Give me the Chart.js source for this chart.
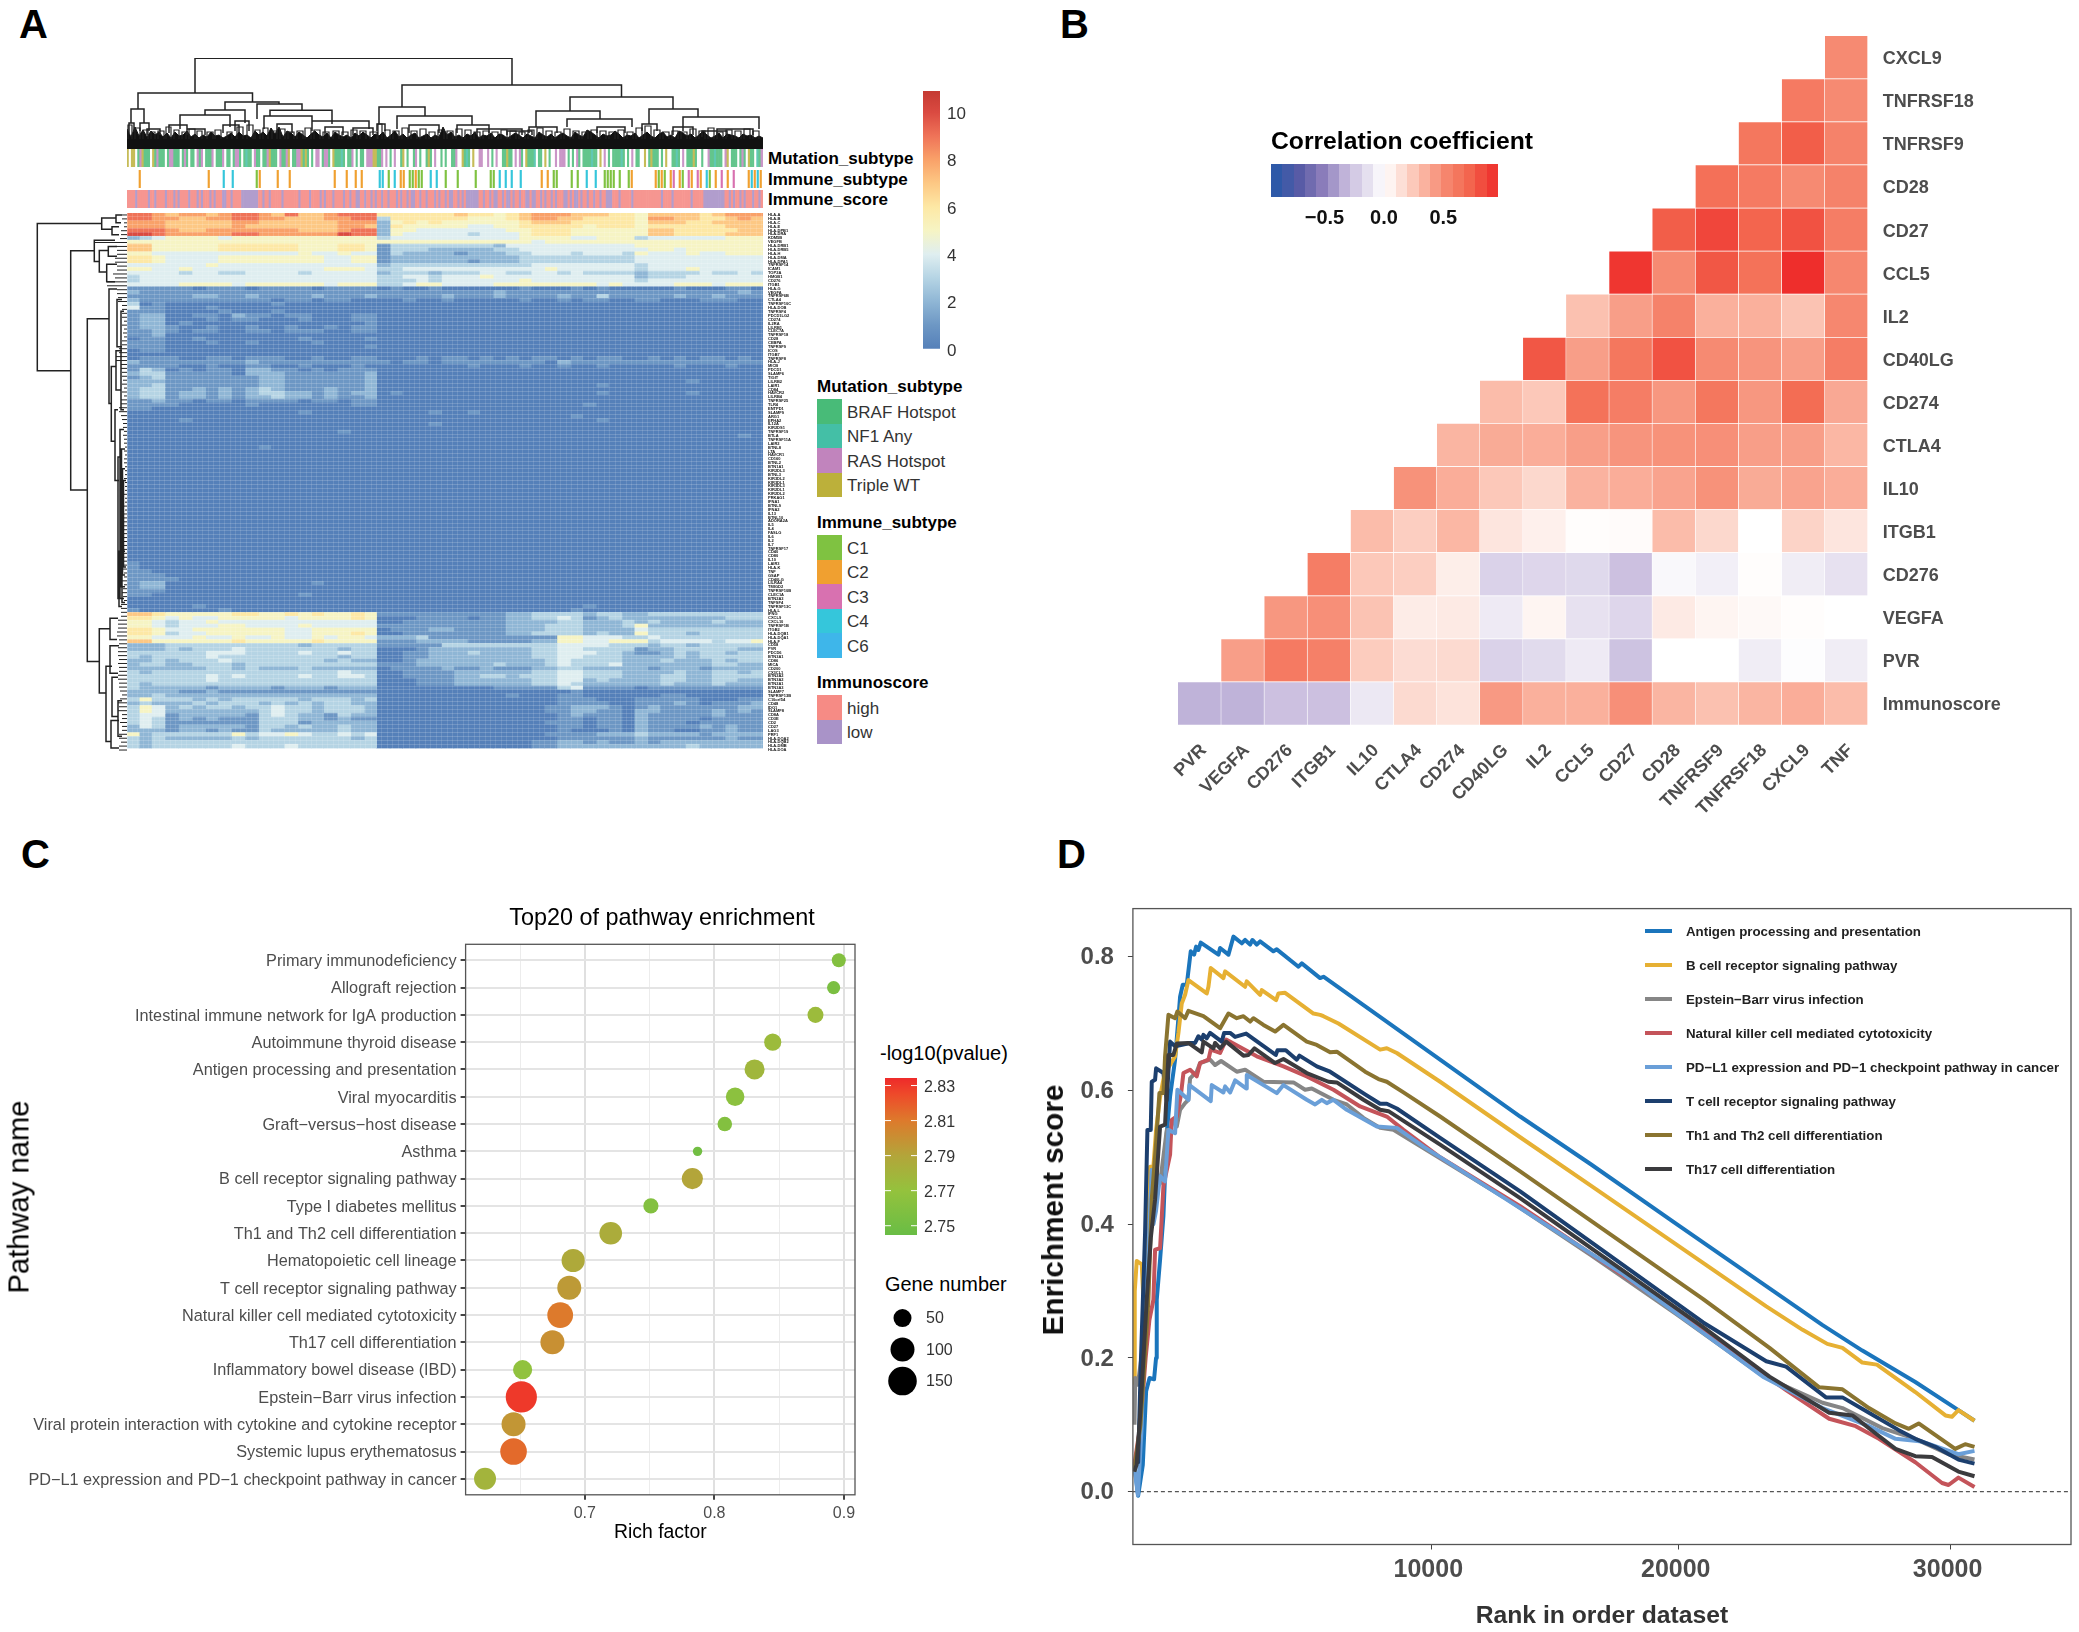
<!DOCTYPE html>
<html>
<head>
<meta charset="utf-8">
<title>Immune panels</title>
<script src="https://cdn.jsdelivr.net/npm/chart.js@4"></script>
<style>
body { margin: 0; background: #fff; font-family: "Liberation Sans", Arial, sans-serif; }
#page { position: relative; width: 2079px; height: 1632px; overflow: hidden; }
#page canvas { position: absolute; }
.txt { position: absolute; white-space: nowrap; transform: translateY(-50%); }
.box { position: absolute; }
</style>
</head>
<body>
<div id="page"></div>
<script>
// ---------- panel A data ----------
// one char per sample group, hex scale 0..a = expression 0..10
const geneNames = [
  'HLA-A','HLA-B','HLA-C','HLA-E','HLA-DPB1','HLA-DRA','KDM5B','VEGFB','HLA-DRB1','HLA-DRB5','HLA-H','HLA-DMA','HLA-DPA1','TNFRSF14','ICAM1','TOP2A','HMGB1','CD276','ITGB1',
  'HLA-G','VEGFA','TNFRSF6B','CTLA4','TNFRSF10C','HLA-DOB','TNFRSF4','PDCD1LG2','CD274','IL2RA','LILRB1','CLEC7A','TNFRSF18','CD28','CEBPA','TNFRSF9','ICOS','ITGB7','TNFRSF8','HLA-J','MICB','PDCD1','SLAMF6','TIGIT','LILRB2','LAIR1','CD84','HAVCR2','LILRB4','TNFRSF25','TLR4','ENTPD1',
  'SLAMF9','ARG1','EPHA2','IL12A','KIR2DS1','TNFRSF19','BTLA','TNFRSF11A','LAIR2','BTNL8','LTA','HAVCR1','CD160','BTNL2','BTN1A1','KIR2DL3','BTNL3','KIR3DL2','KIR3DL1','KIR3DL3','KIR2DL1','KIR2DL2','PRKAG1','IFNA1','BTNL9','IFNA2','IL13','BTNL10','ADORA2A','IL5','IL4','FASLG','IL6','IL2','IL7','TNFRSF17','CD40','CD80','IL10','LAIR3','HLA-K','TNF','GSAP','CD40LG','LILRA4','TMIGD2','TNFRSF10B','CLEC1A','BTN2A3','TNFSF4','TNFRSF13C',
  'HLA-L','IFNG',
  'CXCL9','CXCL10','TNFRSF1B','ITGB2','HLA-DQB1','HLA-DQA1','HLA-F','CD58',
  'PVR','PDCD6','BTN3A1','CD86','MICA','CD200','CX3CL1','BTN2A2','BTN3A2','BTN2A1','BTN3A3','SLAMF7','TNFRSF13B','C10orf54','CD48','IDO1','SLAMF8','CD8A','CD3E','CD2','CD27','LAG3','PRF1','HLA-DQA2','HLA-DQB2','HLA-DMB','HLA-DOA'
];
const heatRows = [
  '998 78878998 79778999 6666667665 6788877766 5777767888',
  '998 87788998 87778899 3666666555 6788776666 5887766787',
  '888 77777887 77777888 2565655555 5677766666 5777667777',
  '888 77777877 77777887 2655555445 5666665666 5666666777',
  '999 87788888 88777899 2554444444 5566655555 5776666677',
  'aa9 88888998 88888a99 2544444344 4566655555 5776666777',
  '234 55554555 55555555 3444444444 4555544555 3444444555',
  '555 55555555 55555555 5555555555 5545555555 5555555555',
  '775 55556666 66555665 1333333332 4444444444 5555555555',
  '775 55556666 66555665 1333222223 3444444444 4554555555',
  '554 44444444 44544544 1322221222 3344434443 5444544555',
  '665 44445555 55554455 1222222222 2333333333 4444444444',
  '665 44445555 55554455 1222222122 2333333333 4444444444',
  '444 44454444 44444444 2333333333 3344444444 3444444444',
  '554 45444444 44445554 3344444444 4445444444 3444544444',
  '444 43443344 44344444 2333233344 3344343333 2333343343',
  '344 44444444 44444444 3344344454 4444444444 2333444444',
  '344 44444444 44444444 3334344444 4544444444 3444444444',
  '444 45555455 55554555 3345544445 5555555454 4445554555',
  // blue band
  '111 11011101 11101111 0100100000 0100010100 0001000110',
  '211 11111111 11111111 1111111112 1111111111 1111111121',
  '111 11221121 11121112 1111121112 1111211311 1112112111',
  '211 11111111 01101100 0010010000 0100101100 1100011100',
  '301 00000000 10000000 0000000000 0000000000 0000000000',
  '411 00010000 00000000 0000000000 0000000000 0000000000',
  '111 00001000 10000000 0000000000 0000000000 0000000000',
  '122 00110211 01100011 0000000000 0000000000 0000000000',
  '122 00010110 00100011 0000000000 0000000000 0000000000',
  '122 01000000 00000001 0000000000 0000000000 0000000000',
  '122 10010010 01001011 0000000000 0000000000 0000000000',
  '112 10110011 01110011 0000000000 0000000000 0000000000',
  '112 00000000 00000000 0000000000 0000000000 0000000000',
  '011 00100000 00100001 0000000000 0000000000 0000000000',
  '111 00010010 00010000 0000000000 0000000000 0000000000',
  '111 00000000 00000001 0000000000 0000000000 0000000000',
  '011 00000000 00000000 0000000000 0000000000 0000000000',
  '000 00000000 00000000 0000000000 0000000000 0000000000',
  '011 10011011 10010011 0001011010 1011010110 0101011010',
  '211 11111121 11111111 1011011111 1110211111 1111111111',
  '111 10010011 00100010 0000000100 0100100100 0001000100',
  '132 01011022 11010111 0000000000 0000000000 0000000000',
  '233 11111022 21111112 0000000000 0000000000 0000000000',
  '123 11111112 21111112 0000000000 0000000000 0000000000',
  '222 11111112 21111112 0000000000 0000000000 0000100000',
  '223 11111112 21111112 0000000000 0000000100 0000000000',
  '233 11212123 21112112 0000000000 0000000000 0000000000',
  '233 12212123 32212122 0100000000 0000000100 0000100000',
  '233 12212122 32212112 0000000000 0000000000 0000000000',
  '112 11011011 11011011 0000000000 0000000000 0000000000',
  '111 10000010 00000011 0000000000 0000001000 0000000000',
  '110 00000000 00000000 0000000000 0000000000 0000000000',
  // deep blue band
  '000 00000000 00100000 0000100100 0000000000 0000000000',
  '000 00000000 00000000 0000000000 0000010000 0000000000',
  '000 01000000 00000000 0000000000 0000000100 0000000000',
  '000 00000000 00000000 0000100000 0000000000 0000000000',
  '000 00000000 00000000 0000000000 0000000000 0000000000',
  '000 00000000 00000100 0000000000 0000000000 0000000000',
  '000 00000000 00000000 0000000000 0000000000 0000000010',
  '000 00000000 00000000 0000000000 0000000000 0000000000',
  '000 00000000 00000000 0000000000 0000000000 0000000000',
  '000 00000001 00000000 0000000000 0000000000 0000000000',
  '000 00000000 00000000 0000000000 0000000000 0000000000',
  '000 00000000 00000000 0000000000 0000000000 0000000000',
  '000 00000000 00000000 0000000000 0000000000 0000000000',
  '000 00000000 00000000 0000000000 0000000000 0000000000',
  '000 00000000 00000000 0000000000 0000000000 0000000000',
  '000 00000000 00000000 0000000000 0000000000 0000000000',
  '000 00000000 00000000 0000000000 0000000000 0000000000',
  '000 00000000 00000000 0000000000 0000000000 0000000000',
  '000 00000000 00000000 0000000000 0000000000 0000000000',
  '000 00000000 00000000 0000000000 0000000000 0000000000',
  '000 00000000 00000000 0000000000 0000000000 0000000000',
  '000 00000000 00000000 0000000000 0000000000 0000000000',
  '000 00000000 00000000 0000000000 0000000000 0000000000',
  '000 00000000 00000000 0000000000 0000000000 0000000000',
  '000 00000000 00000000 0000000000 0000000000 0000000000',
  '000 00000000 00000000 0000000000 0000000000 0000000000',
  '000 00000000 00000000 0000000000 0000000000 0000000000',
  '000 00000000 00000000 0000000000 0000000000 0000000000',
  '000 00000000 00000000 0000000000 0000000000 0000000000',
  '000 00000000 00000000 0000000000 0000000000 0000000000',
  '000 00000000 00000000 0000000000 0000000000 0000000000',
  '000 00000000 00000000 0000000000 0000000000 0000000000',
  '000 00000000 00000000 0000000000 0000000000 0000000000',
  '000 00000000 00000000 0000000000 0000000000 0000000000',
  '000 00000000 00000000 0000000000 0000000000 0000000000',
  '000 00000000 00000000 0000000000 0000000000 0000000000',
  '000 00000000 00000000 0000000000 0000000000 0000000000',
  '000 00000000 00000000 0000000000 0000000000 0000000000',
  '000 00000000 00000000 0000000000 0000000000 0000000000',
  '100 00000000 00000000 0000000000 0000000000 0000000000',
  '100 00000000 00000000 0000000000 0000000000 0000000000',
  '110 00000000 00000000 0000000000 0000000000 0000000000',
  '111 00000000 00000000 0000000000 0000000000 0000000000',
  '111 10000000 00000000 0000000000 0000000000 0000000000',
  '122 00000000 00010000 0000000000 0000000000 0000000000',
  '122 00000000 00000000 0000000000 0000000000 0000000000',
  '111 00000000 00000000 0000000000 0000000000 0000000000',
  '110 00000000 00100000 0000000000 0000000000 0000000000',
  '000 00000000 00000000 0000000000 0000000000 0000000000',
  '000 00000000 00000000 0000000000 0000000000 0000000000',
  '000 00100000 00000000 0000000000 0000001000 0000000000',
  '100 00001000 00000000 0000000000 0000010000 0000000000',
  // warm band
  '776 55555665 56565565 1111111111 2233332332 2333333333',
  '665 45445555 54555565 0001111011 2233431232 2222222333',
  '554 34454444 44444444 0011111111 2222332223 2322223222',
  '554 34445544 44544444 1111111111 2223332223 5222222222',
  '665 44555555 54455555 0111221111 2223332222 4333333333',
  '665 34455555 54455565 0011111111 2233332322 5333233333',
  '554 44544544 54454554 2223111111 1111554443 3433333333',
  '775 55555655 55565555 1112222111 1122554455 5344443445',
  // light band
  '222 33333333 33233333 1111133333 3333444433 3233233333',
  '222 32333433 33333233 0001222222 2233443333 1223333322',
  '333 33344433 33433433 0011222322 2233444332 1123233233',
  '323 33343333 33333233 0011222222 2233443332 2223233333',
  '223 23334333 33332322 0012222222 2223433332 2232223233',
  '233 22333233 33333333 1112222223 2223433342 2222223322',
  '222 22233232 22322222 0111121121 1122332222 2122212222',
  '323 33333333 33333433 0011112222 2233443332 2223223323',
  '333 33343433 33433443 0011112233 2333443332 2233223333',
  '333 33343333 33333333 0001112222 2233442322 2233223322',
  '323 33333333 33333333 0001112222 2233432222 2232223222',
  '322 22212222 12221222 0000000001 1111341111 0111111111',
  '222 21121111 11111111 0000000000 0000010000 0000000000',
  '223 22222222 22222222 0000000000 1000110000 0011000000',
  '353 33232333 33233323 0000000000 0000111000 1111100011',
  '232 22323332 32323322 0000000000 0000111100 1112101112',
  '354 23233233 43323332 0000000000 0001122210 1211111122',
  '354 22222223 43323332 0000000000 0001122110 2211112121',
  '344 12222213 43221322 0000000000 0000121110 2111112111',
  '343 12121113 33221211 0000000000 0000110110 2111101111',
  '343 11111113 33122222 0000000000 0001110110 2111011111',
  '243 12222213 32322322 0000000000 0000110110 2111121211',
  '222 12212113 22222322 0000000000 0000100010 2110011211',
  '523 33333534 45433434 0000000000 0001111222 3222212222',
  '323 22222323 33333323 0000000000 0000111111 2111111211',
  '323 33333333 33333333 0000000000 0011221211 2122222222',
  '323 33333433 34333333 0000000000 0011222222 2222322222'
];
// samples per heat column
const colSamples = [9,9,10, 10,10,10,9,10,10,10,9,10,10,10,9,10,10,10,9,
  10,9,10,9,10,9,10,9,10,9, 10,9,10,9,10,9,10,9,10,9, 10,9,10,9,10,9,10,9,10,9];
const heatTicks = [0, 2, 4, 6, 8, 10];

// top annotation strips: B/N/R/T mutation class, P/L immunoscore
const mutationCodes = 'T.TT.BRTBB B.TBRBBB.B RRBBB.BRB. BB.RBR.BBB R.BBBR.BB. BRRB.BNBB. RBB.BBRTBB B.RBBRT.BB RRTBTB.B.R R.BRRB.TBB BNB.BBR.B. BB.RRRTTBB R.R.B.R..B T.B..BR.B. .BTB.R..B. B..BBR..TB NB.T..RR.. R.B.R..BBT BB.R.RB.TB BBN.BB.T.B ..R.RRR.B. B.RB.BBBBN BB.T.R.B.B BBBNB.B.R. BB..T.BTBB B.B.T..BBN B.R.BBBTB. .B..RBBNBB B.RT.BBB.B RB.TBB.NBR';
const scoreCodes = 'PPPPLPPPPP LPPLPPPPLP PPLPLPPPPL PPPLPLPPPL PLPPPLLPPL PPPPLLLLLL LLPPLPPLPP PPPLPPPPPP PLPPPPLPPP PLPLPPPLPP PPLPPLPPLL PPLPPLPLPP LPPLPPPLPL PPLPLLPPLP PLPPPLPLPP LPLLPPLPLP LLLLLLPPLP PLPLLPPLPL LPLPPLPPLL PLLPPLPLPP LPLPPPLLPL PLLPLPPLPP LPPLPPLLLP PPLPPPPPLP PPPPPPPPPP PPLPPPPLPP PPPPPPLPPP PPLLLLLLLL LLPPLPLPPL PLPPPLPPLP';
// immune subtype ticks, position along the sample order (424 slots)
const immunePos = [8,54,64,70,86,88,100,108,138,146,152,156,168,170,174,178,182,184,188,190,192,194,196,202,206,212,220,232,242,244,248,252,256,262,276,280,284,286,296,300,306,312,318,320,322,324,328,334,336,352,354,356,358,362,364,368,370,374,376,380,382,386,388,392,396,400,404,414,416,418,420,422];
const immuneType = ['C2','C2','C4','C4','C1','C2','C2','C2','C2','C2','C2','C2','C4','C4','C1','C4','C2','C2','C1','C1','C2','C1','C1','C4','C4','C1','C1','C1','C1','C1','C4','C4','C4','C4','C2','C2','C1','C1','C1','C1','C4','C4','C1','C1','C1','C1','C1','C1','C2','C2','C1','C2','C1','C2','C3','C2','C1','C3','C2','C3','C2','C4','C1','C2','C3','C2','C3','C2','C4','C2','C4','C2'];

// dendrograms: [left, right, height, left foot, right foot]
const colBrackets = [
  [68,385,90.7,56,64],[11,125.5,56,40,47],[4,17,40,26,26],[98,152,47,39,45],[78,118,39,34,26],[53,103,34,20,22],
  [130,175,45,30,38.7],[143,205,38.7,33,25],[137,185,33,20,25],[185,242,28,18,20],[2,7,26,16,18],[13,22,26,18,18],
  [20,33,20,14,14],[42,60,24,16,16],[60,78,20,14,14],[96,112,24,16,16],[108,122,28,18,18],[150,165,25,16,16],[198,216,22,14,14],[226,246,21,14,14],
  [275,494.5,64,42,52],[252,298,42,25,33],[250,258,25,18,18],[270,345,33,20,24],[282,312,24,16,16],[330,362,24,16,16],
  [443,546,52,38,40],[409,473,38,22,30],[402,430,22,16,16],[440,505,30,22,22],[470,498,22,16,16],
  [522,571,40,25,32],[515,530,25,18,18],[556,632,32,18,20],[546,566,22,14,14],[590,626,20,14,14],[575,600,18,12,12],[350,395,20,14,14],[380,405,18,14,14]
];
// low clusters just above the solid stems: [left, right, height]
const colSmallBrackets = [[1,5,24],[8,13,21],[16,21,19],[24,28,17],[31,37,18],[39,44,22],[47,52,19],[55,59,17],[62,68,20],[70,75,18],[80,86,17],[88,94,19],[100,105,17],[110,116,22],[120,126,24],[128,133,19],[136,141,21],[145,150,18],[153,158,20],[161,167,17],[170,176,18],[178,184,21],[187,193,19],[196,202,17],[206,212,18],[215,221,17],[224,230,19],[233,239,18],[243,250,17],[251,255,25],[258,263,19],[266,272,18],[275,281,21],[284,290,18],[293,299,20],[302,308,17],[311,317,19],[320,326,18],[329,335,20],[338,344,19],[347,353,17],[356,362,18],[365,371,17],[374,380,19],[383,389,18],[392,398,17],[401,407,19],[410,416,21],[419,425,18],[428,434,17],[437,443,20],[446,452,18],[455,461,17],[464,470,19],[473,479,18],[482,488,17],[491,497,19],[500,506,17],[509,515,21],[518,524,23],[527,533,19],[536,542,17],[545,551,18],[554,560,17],[563,569,20],[572,578,18],[581,587,21],[590,596,17],[599,605,19],[608,614,18],[617,623,20],[626,632,18]];
const colLeafHeights = [20,12,22,13,19,12,18,14,17,12,16,11,17,13,14,18,12,15,11,14,12,17,13,14,11,13,16,12,17,13,14,11,18,14,17,13,21,15,22,12,18,16,12,17,14,11,15,18,14,12,16,11,17,14,12,14,11,16,13,17,
  14,11,15,13,17,11,14,18,12,15,11,14,16,11,13,15,11,14,12,22,14,17,12,14,11,15,13,17,11,14,13,16,11,15,14,11,13,16,14,11,
  15,13,11,17,14,12,15,11,14,16,13,11,17,14,12,19,17,14,11,15,13,14,18,15,11,14,13,16,11,14,17,13,11,15,17,12,14,11,18,16,13,15,11,14,18,14,11,13,16,11,15,14,13,11,15,13,14,11,13,11];
// row dendrogram: [top row, bottom row, depth, top foot, bottom foot]
const rowBrackets = [
  [2.7,40.1,89.7,25.3,56.3],[1.3,4.1,25.3,11,15],[0.5,2.5,11,5,6],[3.5,5.5,15,8,8],
  [9.6,70.4,56.3,32.7,39.7],[6.9,12.3,32.7,12,27.7],[9.5,15,27.7,18.7,20.3],[8.5,11,18.7,10,10],[13,17.5,20.3,10,12],
  [26.9,114,39.7,18,27.7],[19.3,48.4,18,10,15.7],[22,34,10,5,5],[39,58,15.7,11,12],[35,45,11,5,6],[50,68,12,9,8],[62,98,9,6,6],[72,92,6,3,3],[86,100,8,5,5],
  [105.7,122,27.7,17,21],[103,108.4,17,9,10],[110,117,17,8,9],[115.2,134.3,21,15,16],[118,128,15,9,9],[129,136,16,8,8],[124,133,9,5,5],
  [55,98,7,3,3],[60,95,5.5,2,2],[65,92,4.5,2,2],[68,90,3.5,1,1],[25,50,6,3,3],[86,99,5,2,2]
];
const rowLeafDepth = [5,5,3,3,6,6,7,32,12,10,10,12,12,10,10,14,12,20,20,
  10,10,9,9,5,5,5,5,3,5,3,4,3,5,5,8,8,11,11,6,6,5,5,4,5,3,5,3,6,6,8,8,
  6,5,4,4,3,4,3,3,2,3,2,3,3,2,2,2,3,2,2,2,3,2,2,3,2,3,4,5,4,3,5,4,3,5,3,5,4,3,5,4,3,3,5,3,4,5,4,3,6,6,6,
  6,9,9,9,10,10,8,8,
  9,9,9,8,9,8,8,9,9,8,8,7,5,7,9,8,9,5,5,7,5,5,8,8,6,8,8];

// ---------- panel B data ----------
const corrX = ['PVR','VEGFA','CD276','ITGB1','IL10','CTLA4','CD274','CD40LG','IL2','CCL5','CD27','CD28','TNFRSF9','TNFRSF18','CXCL9','TNF'];
const corrY = ['CXCL9','TNFRSF18','TNFRSF9','CD28','CD27','CCL5','IL2','CD40LG','CD274','CTLA4','IL10','ITGB1','CD276','VEGFA','PVR','Immunoscore'];
// each row is right-aligned against the TNF column
const corrValues = [
  [.5],
  [.6,.5],
  [.62,.75,.55],
  [.66,.6,.5,.55],
  [.75,.85,.72,.8,.58],
  [.92,.5,.78,.65,.95,.52],
  [.28,.42,.55,.35,.35,.27,.52],
  [.78,.42,.62,.8,.5,.46,.42,.58],
  [.3,.25,.65,.58,.45,.62,.45,.68,.38],
  [.33,.37,.36,.42,.46,.47,.48,.42,.42,.32],
  [.47,.36,.25,.18,.34,.36,.4,.47,.37,.4,.36],
  [.3,.22,.32,.12,.07,.01,.02,.3,.18,0,.2,.12],
  [.58,.25,.22,.08,-.2,-.18,-.17,-.28,-.03,-.07,.01,-.08,-.13],
  [.45,.48,.27,.09,.1,-.09,.05,-.13,-.18,.1,.05,.03,.01,0],
  [.42,.6,.56,.23,.16,.17,-.2,-.16,-.09,-.27,0,0,-.08,-.01,-.08],
  [-.33,-.33,-.28,-.28,-.1,.17,.13,.44,.35,.35,.48,.33,.28,.33,.36,.3]
];
const corrTicks = [-0.5, 0, 0.5];

// ---------- panel C data ----------
const pathwayNames = ['Primary immunodeficiency','Allograft rejection','Intestinal immune network for IgA production','Autoimmune thyroid disease','Antigen processing and presentation','Viral myocarditis','Graft\u2212versus\u2212host disease','Asthma','B cell receptor signaling pathway','Type I diabetes mellitus','Th1 and Th2 cell differentiation','Hematopoietic cell lineage','T cell receptor signaling pathway','Natural killer cell mediated cytotoxicity','Th17 cell differentiation','Inflammatory bowel disease (IBD)','Epstein\u2212Barr virus infection','Viral protein interaction with cytokine and cytokine receptor','Systemic lupus erythematosus','PD\u2212L1 expression and PD\u22121 checkpoint pathway in cancer'];
const richFactor = [.896,.892,.878,.845,.831,.816,.808,.787,.783,.751,.72,.691,.688,.681,.675,.652,.651,.645,.645,.623];
const logP = [2.76,2.755,2.775,2.775,2.778,2.765,2.76,2.75,2.79,2.76,2.785,2.787,2.795,2.81,2.8,2.768,2.83,2.797,2.815,2.78];
const geneCount = [26,22,37,44,65,54,29,8,74,32,87,92,100,118,100,58,183,100,127,81];
const richTicks = [0.65,0.7,0.75,0.8,0.85,0.9];
const richLabelled = [0.7,0.8,0.9];
const logPTicks = [2.75,2.77,2.79,2.81,2.83];
const geneLegend = [50,100,150];

// ---------- panel D data ----------
const gseaNames = ['Antigen processing and presentation','B cell receptor signaling pathway','Epstein\u2212Barr virus infection','Natural killer cell mediated cytotoxicity','PD\u2212L1 expression and PD\u22121 checkpoint pathway in cancer','T cell receptor signaling pathway','Th1 and Th2 cell differentiation','Th17 cell differentiation'];
const antigenES = [[-1442,.044],[-1289,-.006],[-1110,.04],[-982,.15],[-850,.17],[-676,.168],[-599,.2],[-573,.287],[-444,.347],[-316,.412],[-187,.536],[-59,.591],[134,.646],[326,.74],[429,.758],[583,.758],[737,.808],[865,.803],[942,.815],[1032,.81],[1122,.821],[1803,.803],[1867,.813],[2188,.803],[2381,.83],[2702,.82],[2830,.825],[3023,.818],[3112,.825],[3279,.818],[3408,.823],[3921,.808],[4050,.811],[4885,.785],[5013,.79],[5719,.768],[5847,.77],[13423,.561],[16130,.49],[19450,.4],[23025,.304],[25070,.249],[26600,.211],[28640,.164],[30300,.122],[30920,.106]];
const bcellES = [[-1445,.16],[-1420,.3],[-1343,.345],[-1150,.34],[-1086,.287],[-958,.387],[-829,.486],[-701,.486],[-600,.54],[-444,.59],[-300,.62],[-187,.63],[134,.651],[262,.686],[390,.73],[519,.743],[647,.765],[1353,.745],[1418,.755],[1507,.783],[1995,.768],[2060,.778],[2830,.755],[2894,.763],[3408,.743],[3472,.75],[4024,.735],[4114,.745],[4371,.746],[5462,.715],[5719,.713],[5847,.711],[6425,.7],[8030,.661],[8287,.663],[8672,.656],[10341,.613],[13423,.53],[16130,.458],[22900,.277],[24300,.242],[25250,.221],[25835,.215],[26600,.193],[27160,.19],[28640,.149],[29800,.114],[30050,.112],[30300,.122],[30920,.106]];
const ebvES = [[-1430,.1],[-1400,.17],[-1300,.16],[-1100,.22],[-900,.35],[-765,.481],[-600,.48],[-450,.46],[-187,.541],[-59,.541],[69,.556],[198,.546],[326,.571],[519,.581],[647,.586],[711,.618],[968,.628],[1097,.641],[1482,.646],[1674,.638],[1905,.644],[2509,.628],[2830,.631],[3536,.613],[4692,.612],[5141,.601],[5398,.603],[6232,.586],[6746,.579],[7388,.559],[8030,.544],[8544,.541],[12810,.44],[16130,.354],[19450,.265],[22770,.173],[25070,.133],[25835,.125],[27370,.095],[28640,.079],[29920,.056],[30920,.048]];
const nkES = [[-1440,.04],[-1200,.1],[-1000,.2],[-855,.257],[-701,.287],[-637,.362],[-444,.364],[-316,.457],[-59,.504],[4,.556],[198,.561],[351,.591],[455,.626],[711,.631],[968,.621],[1097,.641],[1418,.646],[1507,.661],[1867,.656],[2098,.676],[3279,.651],[4307,.636],[5205,.621],[6232,.601],[7260,.576],[8287,.561],[8929,.541],[10341,.5],[13423,.427],[17400,.323],[20470,.242],[22770,.176],[23664,.152],[25324,.109],[26346,.098],[27240,.079],[28640,.044],[29670,.013],[29920,.01],[30300,.021],[30920,.007]];
const pdl1ES = [[-1440,.04],[-1300,-.005],[-1150,.1],[-1022,.29],[-900,.35],[-765,.481],[-700,.4],[-600,.42],[-444,.472],[-252,.464],[-123,.541],[134,.536],[223,.601],[647,.586],[686,.608],[1507,.584],[1546,.608],[1995,.597],[2060,.606],[2253,.597],[2445,.615],[2869,.603],[2894,.623],[4050,.596],[4307,.608],[5205,.586],[5526,.579],[5783,.586],[5976,.581],[6232,.586],[6746,.571],[7902,.546],[8672,.544],[9700,.516],[13423,.424],[17400,.325],[22770,.172],[25070,.125],[26856,.098],[27880,.079],[28900,.075],[30300,.056],[30920,.061]];
const tcrES = [[-1442,.044],[-1289,.044],[-1187,.191],[-1022,.387],[-932,.541],[-804,.541],[-765,.613],[-637,.616],[-598,.633],[-316,.626],[-187,.585],[-59,.673],[134,.666],[711,.671],[904,.671],[1032,.681],[1161,.676],[1225,.683],[1353,.678],[1482,.686],[1931,.673],[2021,.686],[2253,.686],[2445,.68],[2869,.685],[4011,.653],[4075,.66],[4397,.66],[4820,.646],[4923,.652],[5591,.636],[6104,.628],[7452,.594],[8030,.58],[8287,.58],[8672,.573],[10341,.529],[13423,.449],[20470,.253],[22900,.195],[23664,.187],[25200,.141],[25835,.141],[26856,.118],[28005,.092],[28640,.079],[29410,.067],[30300,.048],[30920,.042]];
const th1ES = [[-1440,.03],[-1200,.1],[-1000,.22],[-894,.287],[-765,.437],[-600,.52],[-470,.596],[-316,.596],[-252,.651],[-123,.713],[134,.708],[223,.718],[519,.708],[647,.719],[1225,.711],[1867,.693],[2188,.715],[2509,.708],[2766,.711],[3023,.703],[3151,.708],[3536,.698],[3986,.688],[4307,.698],[5205,.673],[5591,.668],[6104,.657],[6361,.658],[7452,.628],[7966,.617],[8287,.613],[8929,.597],[10341,.561],[13423,.479],[20470,.288],[23025,.215],[24940,.156],[25835,.153],[26856,.125],[27880,.102],[28390,.094],[28770,.102],[30175,.064],[30560,.071],[30920,.067]];
const th17ES = [[-1440,.03],[-1350,.04],[-1200,.12],[-958,.287],[-800,.38],[-637,.437],[-444,.546],[-252,.549],[-123,.653],[69,.653],[198,.67],[647,.671],[1161,.657],[1225,.673],[1610,.663],[1674,.671],[1867,.663],[2098,.673],[2766,.652],[2958,.653],[3190,.663],[3986,.641],[4307,.647],[5205,.626],[6040,.613],[6361,.612],[7388,.586],[8030,.571],[8351,.569],[10341,.519],[13423,.439],[20470,.246],[23025,.172],[25324,.118],[26218,.114],[27115,.087],[27880,.064],[28640,.053],[29283,.052],[30300,.03],[30920,.023]];
const gseaSeries = [antigenES, bcellES, ebvES, nkES, pdl1ES, tcrES, th1ES, th17ES];
const rankTickPos = [10000, 19530, 30000];
const rankTickLabels = ['10000', '20000', '30000'];
const esTicks = [0, 0.2, 0.4, 0.6, 0.8];

// ---------- palettes ----------
const heatStops = [[0,'#5580b9'],[1,'#6d97c4'],[2,'#8fb6d5'],[3,'#b5d4e4'],[4,'#dfeef0'],[5,'#f6f4c4'],[6,'#fde8a5'],[7,'#fdc884'],[8,'#f9a169'],[9,'#ef7358'],[10,'#da4a41'],[10.9,'#c53a32']];
const corrStops = [[-0.95,'#2459a9'],[-0.7,'#5a5ba6'],[-0.5,'#8f80bc'],[-0.3,'#c8bcde'],[-0.1,'#ece8f3'],[0,'#ffffff'],[0.1,'#fdeae4'],[0.3,'#fbbcaa'],[0.5,'#f68a72'],[0.7,'#f36a51'],[0.96,'#ee2c2a']];
const pStops = [[2.7447,'#69bd45'],[2.77,'#94c23d'],[2.79,'#b3a53a'],[2.81,'#dd7a2c'],[2.825,'#ee4a2a'],[2.8343,'#ee2a2a']];
const mutationColors = { B: '#48bb78', N: '#44bfa6', R: '#c184bd', T: '#bcb03a', '.': '#ffffff' };
const scoreColors = { P: '#f68b85', L: '#a993c8' };
const immuneColors = { C1: '#7fc241', C2: '#f0a030', C3: '#d871b0', C4: '#35c6db', C6: '#3eb6ea' };
const gseaColors = ['#1b75bc','#e6b033','#868686','#c4545a','#6a9fd8','#1c3f6e','#8a7430','#3b3b3e'];

// ---------- helpers ----------
const FONT = '"Liberation Sans", Arial, sans-serif';
const page = document.getElementById('page');
Chart.defaults.animation = false;
Chart.defaults.responsive = false;
Chart.defaults.events = [];
Chart.defaults.font.family = FONT;
Chart.defaults.layout.autoPadding = false;
Chart.defaults.plugins.legend.display = false;
Chart.defaults.plugins.tooltip.enabled = false;

function addCanvas(left, top, width, height) {
  const c = document.createElement('canvas');
  c.width = width;
  c.height = height;
  c.style.left = left + 'px';
  c.style.top = top + 'px';
  page.appendChild(c);
  return c;
}

function addText(text, x, y, size, opts = {}) {
  const d = document.createElement('div');
  d.className = 'txt';
  d.textContent = text;
  d.style.left = x + 'px';
  d.style.top = y + 'px';
  d.style.fontSize = size + 'px';
  d.style.fontWeight = opts.bold ? 'bold' : 'normal';
  d.style.color = opts.color || '#000';
  if (opts.center) d.style.transform = 'translate(-50%,-50%)';
  if (opts.rotate) d.style.transform = 'translate(-50%,-50%) rotate(-90deg)';
  page.appendChild(d);
}

function addBox(x, y, w, h, color) {
  const d = document.createElement('div');
  d.className = 'box';
  d.style.cssText += `left:${x}px;top:${y}px;width:${w}px;height:${h}px;background:${color}`;
  page.appendChild(d);
}

function mixColor(stops, v) {
  if (v <= stops[0][0]) return stops[0][1];
  for (let i = 1; i < stops.length; i++) {
    if (v <= stops[i][0]) {
      const t = (v - stops[i - 1][0]) / (stops[i][0] - stops[i - 1][0]);
      const a = parseInt(stops[i - 1][1].slice(1), 16);
      const b = parseInt(stops[i][1].slice(1), 16);
      const ch = s => Math.round(((a >> s) & 255) * (1 - t) + ((b >> s) & 255) * t);
      return `rgb(${ch(16)},${ch(8)},${ch(0)})`;
    }
  }
  return stops[stops.length - 1][1];
}

// force an axis box to a fixed size so the plot area lands where it should
const fixAxis = size => s => {
  if (s.isHorizontal()) s.height = size; else s.width = size;
  s.paddingLeft = s.paddingRight = s.paddingTop = s.paddingBottom = 0;
};

const framePlugin = {
  id: 'frame',
  afterDraw(chart) {
    const a = chart.chartArea, c = chart.ctx;
    c.save();
    c.strokeStyle = '#555';
    c.lineWidth = 1.3;
    c.strokeRect(a.left, a.top, a.right - a.left, a.bottom - a.top);
    c.restore();
  }
};

function gradientFill(stops, min, max, vertical) {
  return ctx => {
    const a = ctx.chart.chartArea;
    if (!a) return stops[0][1];
    const g = vertical
      ? ctx.chart.ctx.createLinearGradient(0, a.bottom, 0, a.top)
      : ctx.chart.ctx.createLinearGradient(a.left, 0, a.right, 0);
    stops.forEach(([v, col]) => g.addColorStop(Math.min(1, Math.max(0, (v - min) / (max - min))), col));
    return g;
  };
}

// same as gradientFill but in flat bands, like a binned legend
function bandFill(stops, min, max, bands) {
  return ctx => {
    const a = ctx.chart.chartArea;
    if (!a) return stops[0][1];
    const g = ctx.chart.ctx.createLinearGradient(a.left, 0, a.right, 0);
    for (let i = 0; i < bands; i++) {
      const col = mixColor(stops, min + (max - min) * (i + 0.5) / bands);
      g.addColorStop(i / bands, col);
      g.addColorStop((i + 1) / bands, col);
    }
    return g;
  };
}

// vertical color bar with tick labels on its right
function colorBarV(rect, labelWidth, min, max, ticks, fmt, stops, fontSize, whiteTicks) {
  const [x, y, w, h] = rect;
  const whiteMarks = {
    id: 'whiteMarks',
    afterDatasetsDraw(chart) {
      if (!whiteTicks) return;
      const a = chart.chartArea, c = chart.ctx, sc = chart.scales.y;
      c.save();
      c.strokeStyle = '#fff';
      ticks.forEach(t => {
        const py = sc.getPixelForValue(t);
        c.beginPath();
        c.moveTo(a.left, py); c.lineTo(a.left + 6, py);
        c.moveTo(a.right - 6, py); c.lineTo(a.right, py);
        c.stroke();
      });
      c.restore();
    }
  };
  new Chart(addCanvas(x, y - 14, w + labelWidth, h + 28), {
    type: 'bar',
    data: { labels: [''], datasets: [{ data: [[min, max]], backgroundColor: gradientFill(stops, min, max, true), barPercentage: 1, categoryPercentage: 1 }] },
    options: {
      layout: { padding: { top: 14, bottom: 14 } },
      scales: {
        x: { display: false },
        y: {
          position: 'right', min, max, afterFit: fixAxis(labelWidth),
          afterBuildTicks: s => { s.ticks = ticks.map(value => ({ value })); },
          border: { display: false },
          grid: { drawOnChartArea: false, drawTicks: false },
          ticks: { callback: fmt, color: '#333', font: { size: fontSize }, padding: 7, labelOffset: 2, autoSkip: false }
        }
      }
    },
    plugins: [whiteMarks]
  });
}

// one row of colored ticks across the heatmap width
function stripChart(rect, count, value, color, alpha) {
  const [x, y, w, h] = rect;
  const idx = Array.from({ length: count }, (_, i) => i);
  const cv = addCanvas(x, y, w, h);
  cv.style.opacity = alpha || 1;
  new Chart(cv, {
    type: 'bar',
    data: { labels: idx, datasets: [{ data: idx.map(value), backgroundColor: idx.map(color), barPercentage: 1, categoryPercentage: 1 }] },
    options: { scales: { x: { display: false }, y: { display: false, min: 0, max: 1 } } }
  });
}

function bracketPoints(list, horizontal) {
  const pts = [];
  list.forEach(([a, b, h, fa, fb]) => {
    const raw = [[a, fa], [a, h], [b, h], [b, fb]];
    raw.forEach(([p, q]) => pts.push(horizontal ? { x: p, y: q } : { x: q, y: p }));
    pts.push({ x: NaN, y: NaN });
  });
  return pts;
}

// ---------- panel letters ----------
addText('A', 19, 24, 40, { bold: true });
addText('B', 1060, 24, 40, { bold: true });
addText('C', 21, 854, 40, { bold: true });
addText('D', 1057, 854, 40, { bold: true });

// ---------- panel A ----------
const colMax = colSamples.reduce((a, b) => a + b, 0);
const cleanRows = heatRows.map(r => r.replace(/ /g, ''));
const latticeTicks = [];
for (let v = 0; v <= colMax; v += 4) latticeTicks.push({ value: v });
new Chart(addCanvas(127, 213, 683, 539), {
  type: 'bar',
  data: {
    labels: geneNames,
    datasets: colSamples.map((n, c) => ({
      data: cleanRows.map(() => n),
      backgroundColor: cleanRows.map(r => mixColor(heatStops, parseInt(r[c], 16))),
      barPercentage: 1, categoryPercentage: 1
    }))
  },
  options: {
    indexAxis: 'y',
    scales: {
      x: {
        stacked: true, min: 0, max: colMax, afterFit: fixAxis(0),
        afterBuildTicks: s => { s.ticks = latticeTicks; },
        border: { display: false }, ticks: { display: false },
        grid: { z: 1, drawTicks: false, color: 'rgba(255,255,255,0.12)', lineWidth: 1 }
      },
      y: {
        stacked: true, position: 'right', afterFit: fixAxis(47),
        border: { display: false }, grid: { z: 1, drawTicks: false, color: 'rgba(255,255,255,0.16)', lineWidth: 1 },
        ticks: { autoSkip: false, padding: 5, color: '#111', font: { size: 4, weight: 'bold' } }
      }
    }
  }
});

const mutationChars = mutationCodes.replace(/ /g, '');
const scoreChars = scoreCodes.replace(/ /g, '');
stripChart([127, 149, 636, 18], mutationChars.length, () => 1, i => mutationColors[mutationChars[i]], 0.85);
stripChart([127, 170, 636, 18], 424, i => immunePos.includes(i) ? 1 : null, i => {
  const k = immunePos.indexOf(i);
  return k < 0 ? '#fff' : immuneColors[immuneType[k]];
});
stripChart([127, 190, 636, 18], scoreChars.length, () => 1, i => scoreColors[scoreChars[i]], 0.9);
addText('Mutation_subtype', 768, 159, 17, { bold: true });
addText('Immune_subtype', 768, 180, 17, { bold: true });
addText('Immune_score', 768, 200, 17, { bold: true });

new Chart(addCanvas(127, 58, 636, 91), {
  type: 'scatter',
  data: {
    datasets: [
      { data: bracketPoints(colBrackets, true), showLine: true, pointRadius: 0, borderColor: '#222', borderWidth: 1.5 },
      { data: bracketPoints(colSmallBrackets.map(([l, r, h]) => [l, r, h, 10, 10]), true), showLine: true, pointRadius: 0, borderColor: '#222', borderWidth: 1.2 },
      { data: colLeafHeights.map((h, i) => ({ x: i * 636 / (colLeafHeights.length - 1), y: h })), showLine: true, pointRadius: 0, borderColor: '#111', borderWidth: 1, fill: 'origin', backgroundColor: '#111' }
    ]
  },
  options: { scales: { x: { display: false, min: 0, max: 636 }, y: { display: false, min: 0, max: 91 } } }
});

const rowTines = [];
rowLeafDepth.forEach((d, i) => rowTines.push({ x: 0, y: i + 0.5 }, { x: d, y: i + 0.5 }, { x: NaN, y: NaN }));
new Chart(addCanvas(30, 213, 97, 539), {
  type: 'scatter',
  data: {
    datasets: [
      { data: bracketPoints(rowBrackets, false), showLine: true, pointRadius: 0, borderColor: '#222', borderWidth: 1.5 },
      { data: rowTines, showLine: true, pointRadius: 0, borderColor: '#222', borderWidth: 1 }
    ]
  },
  options: { scales: { x: { display: false, reverse: true, min: 0, max: 97 }, y: { display: false, reverse: true, min: 0, max: 137 } } }
});

colorBarV([923, 91, 17, 258], 60, 0, 10.9, heatTicks, v => String(v), heatStops, 17, false);

function legendBlock(title, y, names, colors) {
  addText(title, 817, y, 17, { bold: true });
  names.forEach((n, i) => {
    const top = y + 12 + i * 24.6;
    addBox(817, top, 25, 24.6, colors[i]);
    addText(n, 847, top + 13.6, 17, { color: '#333' });
  });
}
legendBlock('Mutation_subtype', 387, ['BRAF Hotspot', 'NF1 Any', 'RAS Hotspot', 'Triple WT'], [mutationColors.B, mutationColors.N, mutationColors.R, mutationColors.T]);
legendBlock('Immune_subtype', 523, ['C1', 'C2', 'C3', 'C4', 'C6'], ['C1', 'C2', 'C3', 'C4', 'C6'].map(k => immuneColors[k]));
legendBlock('Immunoscore', 683, ['high', 'low'], [scoreColors.P, scoreColors.L]);

// ---------- panel B ----------
new Chart(addCanvas(1170, 30, 909, 800), {
  type: 'bar',
  data: {
    labels: corrY,
    datasets: corrX.map((name, c) => ({
      label: name,
      data: corrY.map(() => 1),
      backgroundColor: corrValues.map(row => {
        const v = row[c - (16 - row.length)];
        return v === undefined ? 'rgba(255,255,255,0)' : mixColor(corrStops, v);
      }),
      borderColor: '#fff', borderWidth: 0.7, barPercentage: 1, categoryPercentage: 1
    }))
  },
  options: {
    indexAxis: 'y',
    layout: { padding: { left: 8, top: 5.7 } },
    scales: {
      x: {
        stacked: true, min: 0, max: 16, afterFit: fixAxis(105),
        afterBuildTicks: s => { s.ticks = corrX.map((n, i) => ({ value: i + 0.5 })); },
        border: { display: false }, grid: { display: false, drawTicks: false },
        ticks: { autoSkip: false, minRotation: 45, maxRotation: 45, padding: 15, labelOffset: 4, color: '#4d4d4d', font: { size: 18, weight: 'bold' }, callback: (v, i) => corrX[i] }
      },
      y: {
        stacked: true, position: 'right', afterFit: fixAxis(211.2),
        border: { display: false }, grid: { display: false, drawTicks: false },
        ticks: { autoSkip: false, padding: 15, labelOffset: 2, color: '#4d4d4d', font: { size: 18, weight: 'bold' } }
      }
    }
  }
});

addText('Correlation coefficient', 1271, 141, 24.7, { bold: true });
new Chart(addCanvas(1271, 164, 227, 70), {
  type: 'bar',
  data: { labels: [''], datasets: [{ data: [[-0.95, 0.96]], backgroundColor: bandFill(corrStops, -0.95, 0.96, 20), barPercentage: 1, categoryPercentage: 1 }] },
  options: {
    indexAxis: 'y',
    scales: {
      y: { display: false },
      x: {
        min: -0.95, max: 0.96, afterFit: fixAxis(37),
        afterBuildTicks: s => { s.ticks = corrTicks.map(value => ({ value })); },
        border: { display: false }, grid: { drawOnChartArea: false, drawTicks: false },
        ticks: { padding: 9, color: '#111', font: { size: 20, weight: 'bold' }, callback: v => v === 0 ? '0.0' : (v < 0 ? '\u22120.5' : '0.5') }
      }
    }
  }
});

// ---------- panel C ----------
new Chart(addCanvas(0, 925, 872, 635), {
  type: 'bubble',
  data: {
    datasets: [{
      data: richFactor.map((x, i) => ({ x, y: i, r: 1.8 + 1.02 * Math.sqrt(geneCount[i]) })),
      backgroundColor: logP.map(v => mixColor(pStops, v)),
      borderWidth: 0
    }]
  },
  options: {
    layout: { padding: { right: 17, top: 19.3 } },
    scales: {
      x: {
        min: 0.608, max: 0.9085, afterFit: fixAxis(65.2),
        afterBuildTicks: s => { s.ticks = richTicks.map(value => ({ value })); },
        border: { display: false },
        grid: {
          color: c => richLabelled.includes(c.tick.value) ? '#e0e0e0' : '#ececec',
          lineWidth: c => richLabelled.includes(c.tick.value) ? 2 : 1,
          tickColor: c => richLabelled.includes(c.tick.value) ? '#444' : 'rgba(0,0,0,0)',
          tickLength: 5
        },
        ticks: { autoSkip: false, maxRotation: 0, padding: 4, color: '#4d4d4d', font: { size: 16 }, callback: v => richLabelled.includes(v) ? v.toFixed(1) : '' },
        title: { display: true, text: 'Rich factor', color: '#000', font: { size: 19.4 }, padding: { top: 0, bottom: 16 } }
      },
      y: {
        reverse: true, min: -0.586, max: 19.586, afterFit: fixAxis(465.6),
        afterBuildTicks: s => { s.ticks = pathwayNames.map((n, i) => ({ value: i })); },
        border: { display: false },
        grid: { color: '#e4e4e4', lineWidth: 2, tickColor: '#444', tickLength: 5 },
        ticks: { autoSkip: false, padding: 4, labelOffset: 1.3, color: '#4d4d4d', font: { size: 16.25 }, callback: (v, i) => pathwayNames[i] }
      }
    }
  },
  plugins: [framePlugin]
});
addText('Pathway name', 19, 1197, 29.2, { rotate: true });
addText('Top20 of pathway enrichment', 662, 917, 23.4, { center: true });
addText('-log10(pvalue)', 880, 1053, 20);
colorBarV([885, 1078, 32, 157], 60, 2.7447, 2.8343, logPTicks, v => v.toFixed(2), pStops, 16, true);
addText('Gene number', 885, 1284, 19.9);

new Chart(addCanvas(880, 1300, 100, 100), {
  type: 'bubble',
  data: {
    datasets: [{
      data: geneLegend.map((n, i) => ({ x: 0, y: i, r: 1.8 + 1.02 * Math.sqrt(n) })),
      backgroundColor: '#000', borderWidth: 0
    }]
  },
  options: {
    scales: {
      x: { display: false, min: -1, max: 1 },
      y: {
        position: 'right', reverse: true, min: -0.571, max: 2.6, afterFit: fixAxis(55),
        afterBuildTicks: s => { s.ticks = geneLegend.map((n, i) => ({ value: i })); },
        border: { display: false }, grid: { display: false, drawTicks: false },
        ticks: { padding: 1, labelOffset: 1, color: '#333', font: { size: 16 }, callback: (v, i) => String(geneLegend[i]) }
      }
    }
  }
});

// ---------- panel D ----------
new Chart(addCanvas(1035, 895, 1044, 737), {
  type: 'scatter',
  data: {
    datasets: [
      ...gseaSeries.map((s, i) => ({
        label: gseaNames[i],
        data: s.map(([x, y]) => ({ x, y })),
        showLine: true, pointRadius: 0, borderColor: gseaColors[i], borderWidth: 4, borderJoinStyle: 'round',
        order: gseaSeries.length - i
      })),
      { data: [{ x: -1491, y: 0 }, { x: 34636, y: 0 }], showLine: true, pointRadius: 0, borderColor: '#555', borderWidth: 1.1, borderDash: [4, 3], order: 20 }
    ]
  },
  options: {
    layout: { padding: { right: 8, top: 13.6 } },
    scales: {
      x: {
        min: -1491, max: 34636, afterFit: fixAxis(87.5),
        afterBuildTicks: s => { s.ticks = rankTickPos.map(value => ({ value })); },
        border: { display: false },
        grid: { drawOnChartArea: false, tickColor: '#444', tickLength: 5 },
        ticks: { autoSkip: false, maxRotation: 0, padding: 6, labelOffset: -3, color: '#4d4d4d', font: { size: 25, weight: 'bold' }, callback: (v, i) => rankTickLabels[i] },
        title: { display: true, text: 'Rank in order dataset', color: '#333', font: { size: 24.7, weight: 'bold' }, padding: { top: 0, bottom: 1 } }
      },
      y: {
        min: -0.079, max: 0.8719, afterFit: fixAxis(97.9),
        afterBuildTicks: s => { s.ticks = esTicks.map(value => ({ value })); },
        border: { display: false },
        grid: { drawOnChartArea: false, tickColor: '#444', tickLength: 5 },
        ticks: { autoSkip: false, padding: 14, labelOffset: 1, color: '#4d4d4d', font: { size: 24, weight: 'bold' }, callback: v => v.toFixed(1) }
      }
    }
  },
  plugins: [framePlugin]
});
addText('Enrichment score', 1053, 1210, 29.7, { bold: true, rotate: true, color: '#111' });

gseaNames.forEach((n, i) => {
  const y = 931.2 + i * 34;
  addBox(1645, y - 2, 27, 4, gseaColors[i]);
  addText(n, 1686, y, 13.3, { bold: true, color: '#222' });
});
</script>
</body>
</html>
